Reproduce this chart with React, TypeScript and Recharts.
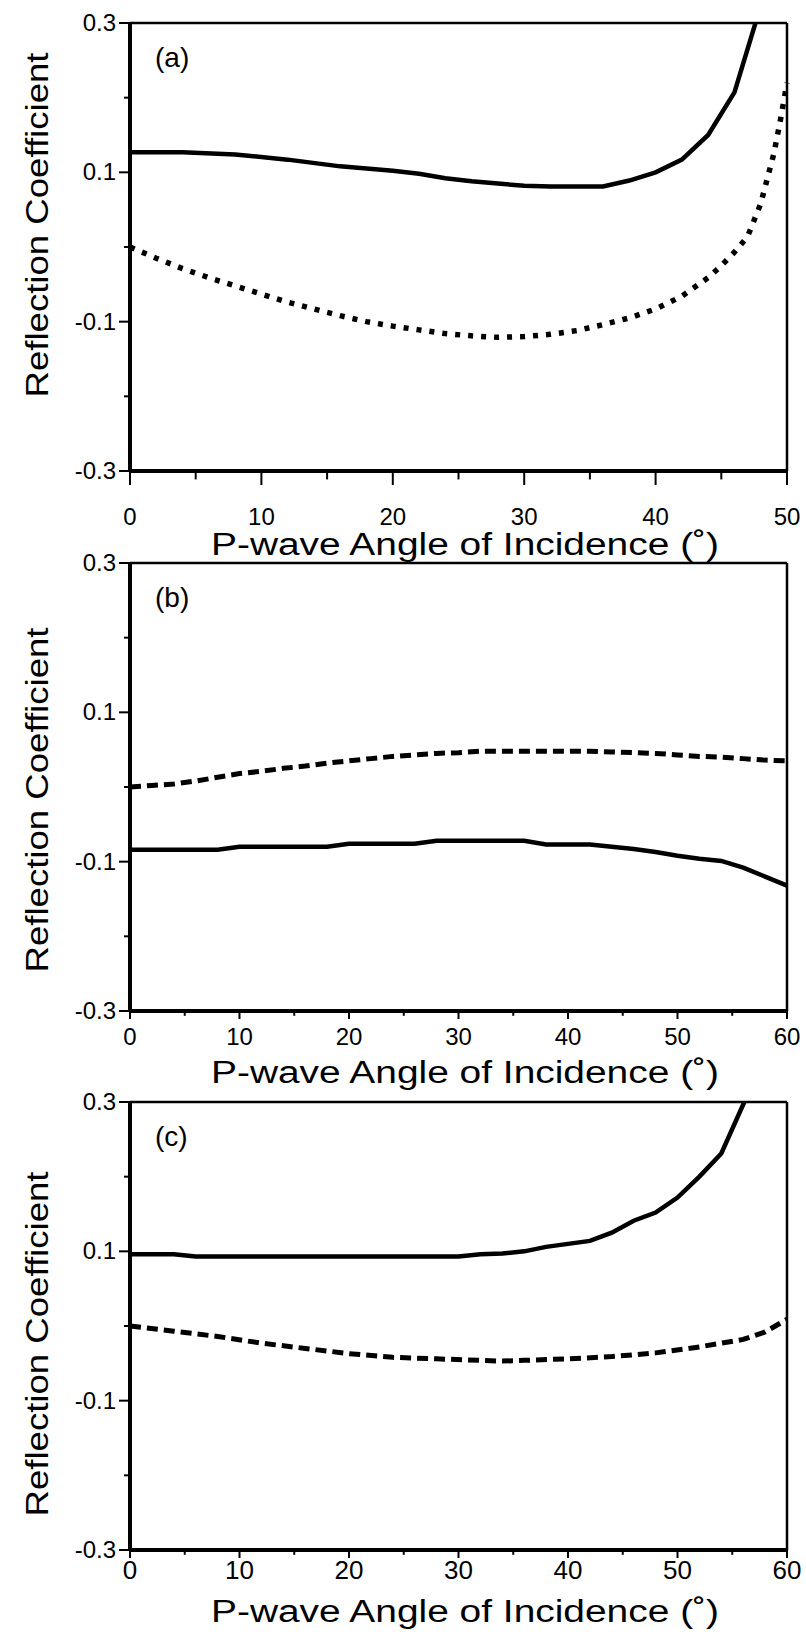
import React from "react";
import { LineChart, Line, XAxis, YAxis, ReferenceLine } from "recharts";

const FONT = '"Liberation Sans", Arial, Helvetica, sans-serif';

// panel (a): angle 0-50
const aSolidX = [0, 4, 8, 12, 16, 20, 22, 24, 26, 28, 30, 32, 34, 36, 38, 40, 42, 44, 46, 47.6];
const aSolidR = [0.127, 0.127, 0.124, 0.117, 0.108, 0.102, 0.098, 0.092, 0.088, 0.085, 0.082, 0.081, 0.081, 0.081, 0.089, 0.1, 0.117, 0.15, 0.207, 0.3];
const aDotX = [0, 2, 4, 6, 8, 10, 12, 14, 16, 18, 20, 22, 24, 26, 28, 30, 32, 34, 36, 38, 40, 42, 44, 45, 46, 47, 48, 49, 49.5, 50];
const aDotR = [0, -0.015, -0.029, -0.041, -0.052, -0.063, -0.074, -0.083, -0.092, -0.1, -0.106, -0.111, -0.116, -0.119, -0.121, -0.12, -0.117, -0.112, -0.104, -0.095, -0.083, -0.066, -0.041, -0.025, -0.007, 0.014, 0.058, 0.125, 0.17, 0.22];

// panel (b): angle 0-60
const bX = [0, 2, 4, 6, 8, 10, 12, 14, 16, 18, 20, 22, 24, 26, 28, 30, 32, 34, 36, 38, 40, 42, 44, 46, 48, 50, 52, 54, 56, 58, 60];
const bSolidR = [-0.084, -0.084, -0.084, -0.084, -0.084, -0.08, -0.08, -0.08, -0.08, -0.08, -0.076, -0.076, -0.076, -0.076, -0.072, -0.072, -0.072, -0.072, -0.072, -0.077, -0.077, -0.077, -0.08, -0.083, -0.087, -0.092, -0.096, -0.099, -0.108, -0.12, -0.132];
const bDashR = [0, 0.002, 0.004, 0.008, 0.013, 0.018, 0.021, 0.025, 0.028, 0.032, 0.035, 0.038, 0.041, 0.043, 0.045, 0.046, 0.048, 0.048, 0.048, 0.048, 0.048, 0.048, 0.047, 0.046, 0.045, 0.043, 0.041, 0.04, 0.038, 0.036, 0.035];

// panel (c): angle 0-60
const cSolidX = [0, 2, 4, 6, 8, 10, 12, 14, 16, 18, 20, 22, 24, 26, 28, 30, 32, 34, 36, 38, 40, 42, 44, 46, 48, 50, 52, 54, 56.1];
const cSolidR = [0.096, 0.096, 0.096, 0.093, 0.093, 0.093, 0.093, 0.093, 0.093, 0.093, 0.093, 0.093, 0.093, 0.093, 0.093, 0.093, 0.096, 0.097, 0.1, 0.106, 0.11, 0.114, 0.125, 0.141, 0.152, 0.172, 0.2, 0.231, 0.3];
const cDashX = [0, 4, 8, 12, 16, 20, 24, 28, 32, 34, 36, 40, 44, 48, 52, 56, 58, 60];
const cDashR = [0, -0.007, -0.014, -0.023, -0.03, -0.037, -0.042, -0.044, -0.046, -0.047, -0.046, -0.044, -0.041, -0.036, -0.028, -0.018, -0.008, 0.009];

const yTicks = [-0.3, -0.2, -0.1, 0, 0.1, 0.2, 0.3];
const xTicks50 = [0, 5, 10, 15, 20, 25, 30, 35, 40, 45, 50];
const xTicks60 = [0, 5, 10, 15, 20, 25, 30, 35, 40, 45, 50, 55, 60];

const zip = (xs: number[], rs: number[]) => xs.map((x, i) => ({ x, r: rs[i] }));

const LEFT = 130;
const RIGHT = 19;
const PLOT_H = 448;

function YTick(props: any) {
  const { x, y, payload } = props;
  const v = payload.value;
  const major = Math.abs(Math.round(v * 10)) % 2 === 1;
  return (
    <g>
      <line x1={x - (major ? 11 : 6)} y1={y} x2={x} y2={y} stroke="#000" strokeWidth={2} />
      {major && (
        <text x={x - 14} y={y} dy={8} textAnchor="end" fontSize={24} fontFamily={FONT} fill="#000">
          {v.toFixed(1)}
        </text>
      )}
    </g>
  );
}

function XTick(props: any) {
  const { x, y, payload, len, dy, fs } = props;
  const major = payload.value % 10 === 0;
  return (
    <g>
      <line x1={x} y1={y} x2={x} y2={y + (major ? len : len * 0.6)} stroke="#000" strokeWidth={2} />
      {major && (
        <text x={x} y={y + dy} textAnchor="middle" fontSize={fs} fontFamily={FONT} fill="#000">
          {payload.value}
        </text>
      )}
    </g>
  );
}

function XTitle({ top, dy }: any) {
  return (
    <text x={465} y={top + PLOT_H + dy} textAnchor="middle" fontSize={31} fontFamily={FONT} fill="#000" textLength={508} lengthAdjust="spacingAndGlyphs">
      P-wave Angle of Incidence (˚)
    </text>
  );
}

function YTitle({ cy }: any) {
  return (
    <text x={48} y={cy} transform={`rotate(-90 48 ${cy})`} textAnchor="middle" fontSize={32} fontFamily={FONT} fill="#000" textLength={345} lengthAdjust="spacingAndGlyphs">
      Reflection Coefficient
    </text>
  );
}

function PanelTag({ top, tag }: any) {
  return (
    <text x={LEFT + 25} y={top + 44} fontSize={28} fontFamily={FONT} fill="#000">
      {tag}
    </text>
  );
}

function Panel({ tag, xMax, xTicks, solid, broken, dash, dashW, top, height, tickLen, tickDy, tickFs, titleDy, yTitleCy }: any) {
  return (
    <LineChart width={806} height={height} margin={{ top, right: RIGHT, left: 0, bottom: 0 }}>
      <XAxis
        dataKey="x"
        type="number"
        domain={[0, xMax]}
        ticks={xTicks}
        interval={0}
        tickSize={0}
        tickMargin={0}
        tickLine={false}
        tick={<XTick len={tickLen} dy={tickDy} fs={tickFs} />}
        axisLine={{ stroke: "#000", strokeWidth: 4 }}
        height={height - top - PLOT_H}
        label={<XTitle top={top} dy={titleDy} />}
      />
      <YAxis
        type="number"
        domain={[-0.3, 0.3]}
        allowDataOverflow
        ticks={yTicks}
        interval={0}
        tickSize={0}
        tickMargin={0}
        tickLine={false}
        tick={<YTick />}
        axisLine={{ stroke: "#000", strokeWidth: 4 }}
        width={LEFT}
        label={<YTitle cy={yTitleCy} />}
      />
      <ReferenceLine y={0.3} stroke="#000" strokeWidth={2.5} label={<PanelTag top={top} tag={tag} />} />
      <ReferenceLine x={xMax} stroke="#000" strokeWidth={2.5} />
      <Line data={solid} dataKey="r" type="linear" stroke="#000" strokeWidth={4.5} dot={false} isAnimationActive={false} />
      <Line data={broken} dataKey="r" type="linear" stroke="#000" strokeWidth={dashW} strokeDasharray={dash} dot={false} isAnimationActive={false} />
    </LineChart>
  );
}

export default function App() {
  return (
    <div style={{ position: "absolute", top: 0, left: 0, width: 806, height: 1636, background: "#fff" }}>
      <div style={{ position: "absolute", top: 0, left: 0 }}>
        <Panel tag="(a)" xMax={50} xTicks={xTicks50} solid={zip(aSolidX, aSolidR)} broken={zip(aDotX, aDotR)} dash="5 8" dashW={5.5}
          top={23} height={570} tickLen={14} tickDy={54} tickFs={24} titleDy={84} yTitleCy={225} />
      </div>
      <div style={{ position: "absolute", top: 540, left: 0 }}>
        <Panel tag="(b)" xMax={60} xTicks={xTicks60} solid={zip(bX, bSolidR)} broken={zip(bX, bDashR)} dash="11 6" dashW={5}
          top={23} height={560} tickLen={8} tickDy={34} tickFs={24} titleDy={72} yTitleCy={260} />
      </div>
      <div style={{ position: "absolute", top: 1080, left: 0 }}>
        <Panel tag="(c)" xMax={60} xTicks={xTicks60} solid={zip(cSolidX, cSolidR)} broken={zip(cDashX, cDashR)} dash="11 6" dashW={5}
          top={22} height={556} tickLen={8} tickDy={29} tickFs={26} titleDy={72} yTitleCy={264} />
      </div>
    </div>
  );
}
